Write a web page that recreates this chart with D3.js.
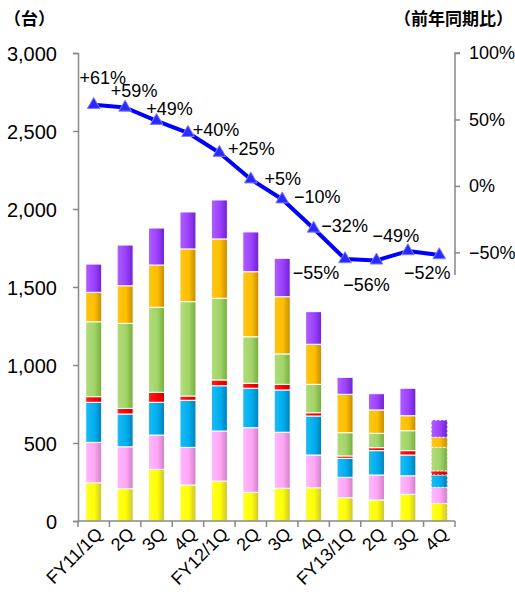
<!DOCTYPE html>
<html>
<head>
<meta charset="utf-8">
<script src="https://cdn.jsdelivr.net/npm/d3@7"></script>
<style>
  body { margin: 0; background: #fff; }
  text { font-family: "Liberation Sans", Arial, sans-serif; fill: #000; }
</style>
</head>
<body>
<svg id="chart" width="515" height="594"></svg>
<script>
// categories
const quarters = ['FY11/1Q','2Q','3Q','4Q','FY12/1Q','2Q ','3Q ','4Q ','FY13/1Q','2Q  ','3Q  ','4Q  '];
// stacked series, bottom to top
const yellow = [245, 207, 331, 231, 256, 184, 210, 213, 149, 135, 171, 113];
const pink   = [259, 269, 220, 241, 321, 414, 359, 210, 131, 160, 119, 103];
const blue   = [257, 210, 210, 302, 290, 253, 271, 250, 122, 156, 133,  79];
const red    = [ 36,  36,  64,  27,  37,  32,  36,  21,  15,  19,  28,  26];
const green  = [480, 545, 545, 605, 524, 298, 195, 182, 149,  92, 128, 151];
const orange = [189, 241, 271, 338, 380, 417, 367, 257, 246, 150,  96,  65];
const purple = [181, 261, 237, 237, 250, 255, 246, 209, 109, 104, 176, 110];
// year-on-year growth (%)
const growth = [61, 59, 49, 40, 25, 5, -10, -32, -55, -56, -49, -52];
// tick labels
const leftTicks = [0, 500, 1000, 1500, 2000, 2500, 3000];
const rightTicks = [-50, 0, 50, 100];

// label offsets relative to each point (layout only)
const labelOffset = [[9,-27],[9,-17],[13,-12],[28,-3],[32,-4],[32,-1],[35,-3],[31,-3],[-29,14],[-10,24],[-12,-15],[-12,18]];

const seriesNames = ['yellow','pink','blue','red','green','orange','purple'];
const seriesVals = [yellow, pink, blue, red, green, orange, purple];
const colors = {
  yellow: ['#ffff2a','#ffff00','#c9c23a'],
  pink:   ['#ffb8ff','#ffa6f5','#cf7fc6'],
  blue:   ['#1cbcf5','#00aeef','#0080b8'],
  red:    ['#ff2020','#ff0000','#d00000'],
  green:  ['#b2dc7a','#a2d46a','#76ac3c'],
  orange: ['#ffc61a','#ffbf00','#c48b00'],
  purple: ['#b060ff','#9a40ff','#6e22cc']
};

const svg = d3.select('#chart');
const mLeft = 78, mRight = 455, mTop = 53, mBottom = 521;

const x = d3.scaleBand().domain(quarters).range([mLeft, mRight]).paddingInner(0.49).paddingOuter(0.245);
const y = d3.scaleLinear().domain([0, 3000]).range([mBottom, mTop]);
const y2 = d3.scaleLinear().domain([-67, 100]).range([275, mTop]);

// gradients
const defs = svg.append('defs');
seriesNames.forEach(n => {
  const g = defs.append('linearGradient').attr('id', 'g-' + n).attr('x1', 0).attr('x2', 1).attr('y1', 0).attr('y2', 0);
  g.append('stop').attr('offset', '0%').attr('stop-color', colors[n][0]);
  g.append('stop').attr('offset', '55%').attr('stop-color', colors[n][1]);
  g.append('stop').attr('offset', '100%').attr('stop-color', colors[n][2]);
});

// stack
const rows = quarters.map((q, i) => {
  const r = {q};
  seriesNames.forEach((n, k) => r[n] = seriesVals[k][i]);
  return r;
});
const stacked = d3.stack().keys(seriesNames)(rows);

svg.append('g').selectAll('g')
  .data(stacked)
  .join('g')
    .attr('fill', d => `url(#g-${d.key})`)
  .selectAll('rect')
  .data(d => d)
  .join('rect')
    .attr('x', d => x(d.data.q))
    .attr('y', d => y(d[1]))
    .attr('width', x.bandwidth())
    .attr('height', d => y(d[0]) - y(d[1]))
    .attr('stroke', '#fff')
    .attr('stroke-width', 1)
    .attr('stroke-dasharray', (d, i) => i === quarters.length - 1 ? '2,2' : null);

// left axis
const axL = svg.append('g').attr('transform', `translate(${mLeft},0)`)
  .call(d3.axisLeft(y).tickValues(leftTicks).tickSize(5).tickSizeOuter(5).tickFormat(d3.format(',')));
axL.select('.domain').attr('stroke', '#888').attr('stroke-width', 1.5);
axL.selectAll('.tick line').attr('stroke', '#888').attr('stroke-width', 1.5);
axL.selectAll('.tick text').attr('font-size', 20).attr('x', -21).attr('dy', '0.35em')
  .style('font-family', '"Liberation Sans", Arial, sans-serif');

// bottom axis
const axB = svg.append('g').attr('transform', `translate(0,${mBottom})`);
axB.append('line').attr('x1', mLeft).attr('x2', mRight).attr('y1', 0).attr('y2', 0)
  .attr('stroke', '#888').attr('stroke-width', 1.5);
axB.selectAll('line.tk')
  .data(d3.range(quarters.length + 1))
  .join('line')
    .attr('class', 'tk')
    .attr('x1', i => mLeft + i * x.step()).attr('x2', i => mLeft + i * x.step())
    .attr('y1', 0).attr('y2', 6)
    .attr('stroke', '#888').attr('stroke-width', 1.5);
axB.selectAll('text')
  .data(quarters)
  .join('text')
    .attr('transform', d => `translate(${x(d) + x.bandwidth() / 2 + 10},${14}) rotate(-45)`)
    .attr('text-anchor', 'end')
    .attr('font-size', 18)
    .text(d => d.trim());

// right axis
const axR = svg.append('g').attr('transform', `translate(${mRight},0)`)
  .call(d3.axisRight(y2).tickValues(rightTicks).tickSize(5).tickSizeOuter(5).tickFormat(d => (d < 0 ? '\u2212' : '') + Math.abs(d) + '%'));
axR.select('.domain').attr('stroke', '#888').attr('stroke-width', 1.5)
  .attr('d', `M5,${mTop}H0V275`);
axR.selectAll('.tick line').attr('stroke', '#888').attr('stroke-width', 1.5);
axR.selectAll('.tick text').attr('font-size', 18).attr('x', 14)
  .style('font-family', '"Liberation Sans", Arial, sans-serif');

// growth line
const cx = (d, i) => x(quarters[i]) + x.bandwidth() / 2;
svg.append('path')
  .datum(growth)
  .attr('fill', 'none')
  .attr('stroke', '#0000ff')
  .attr('stroke-width', 4)
  .attr('stroke-linejoin', 'round')
  .attr('d', d3.line().x(cx).y(d => y2(d)));

svg.append('g').selectAll('path')
  .data(growth)
  .join('path')
    .attr('transform', (d, i) => `translate(${cx(d, i)},${y2(d)})`)
    .attr('d', d3.symbol(d3.symbolTriangle, 70))
    .attr('fill', '#2a2aff')
    .attr('stroke', '#8080ff')
    .attr('stroke-width', 1);

svg.append('g').selectAll('text')
  .data(growth)
  .join('text')
    .attr('x', (d, i) => cx(d, i) + labelOffset[i][0])
    .attr('y', (d, i) => y2(d) + labelOffset[i][1])
    .attr('text-anchor', 'middle')
    .attr('dy', '0.35em')
    .attr('font-size', 18)
    .text(d => (d > 0 ? '+' : d < 0 ? '\u2212' : '') + Math.abs(d) + '%');

// unit titles
svg.append('text').attr('x', 4).attr('y', 25).attr('font-size', 17).attr('font-weight', 'bold')
  .style('font-family', '"Noto Sans CJK JP", sans-serif').text('（台）');
svg.append('text').attr('x', 513).attr('y', 25).attr('text-anchor', 'end').attr('font-size', 17).attr('font-weight', 'bold')
  .style('font-family', '"Noto Sans CJK JP", sans-serif').text('（前年同期比）');
</script>
</body>
</html>
